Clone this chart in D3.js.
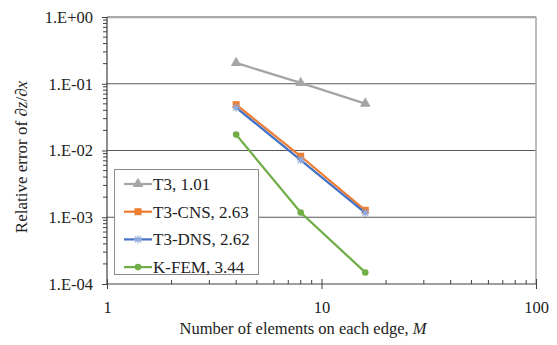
<!DOCTYPE html>
<html>
<head>
<meta charset="utf-8">
<script src="https://cdn.jsdelivr.net/npm/d3@7"></script>
<style>
  body { margin: 0; background: #fff; }
</style>
</head>
<body>
<div id="chart-area"></div>
<script>
// mesh sizes and error values
const elements = [4, 8, 16];
const t3 = [0.205, 0.103, 0.0505];
const t3cns = [0.0486, 0.0082, 0.00127];
const t3dns = [0.0440, 0.0072, 0.00116];
const kfem = [0.0173, 0.00118, 0.000149];

const seriesNames = ["T3, 1.01", "T3-CNS, 2.63", "T3-DNS, 2.62", "K-FEM, 3.44"];
const seriesColors = ["#a5a5a5", "#ed7d31", "#4472c4", "#70ad47"];
const seriesMarkers = ["triangle", "square", "star", "circle"];

const yTicks = [1, 0.1, 0.01, 0.001, 0.0001];
const yTickLabels = ["1.E+00", "1.E-01", "1.E-02", "1.E-03", "1.E-04"];
const xTicks = [1, 10, 100];

const FONT = "Liberation Serif";

const margin = {left: 107, right: 21, top: 17, bottom: 61};
const W = 557, H = 345;
const width = W - margin.left - margin.right,
      height = H - margin.top - margin.bottom;

const svg = d3.select("#chart-area").append("svg")
    .attr("width", W)
    .attr("height", H)
    .attr("font-family", FONT);

const g = svg.append("g")
    .attr("transform", "translate(" + margin.left + "," + margin.top + ")");

// Scales
const x = d3.scaleLog().domain([1, 100]).range([0, width]);
const y = d3.scaleLog().domain([0.0001, 1]).range([height, 0]);

// gridlines
g.selectAll("line.grid").data(yTicks.slice(0, 4))
    .enter().append("line")
    .attr("class", "grid")
    .attr("x1", 0).attr("x2", width)
    .attr("y1", d => y(d)).attr("y2", d => y(d))
    .attr("stroke", "#595959").attr("stroke-width", 1.2);

// plot border (top + right in light gray)
g.append("path")
    .attr("d", "M0,0.5H" + width + "V" + height)
    .attr("fill", "none")
    .attr("stroke", "#a6a6a6").attr("stroke-width", 1.5);

// minor ticks
const yMinor = [];
for (let e = -4; e < 0; e++) for (let k = 2; k < 10; k++) yMinor.push(k * Math.pow(10, e));
const xMinor = [];
for (let e = 0; e < 2; e++) for (let k = 2; k < 10; k++) xMinor.push(k * Math.pow(10, e));

// Y AXIS
g.append("g").selectAll("line").data(yMinor).enter().append("line")
    .attr("x1", -4).attr("x2", 0)
    .attr("y1", d => y(d)).attr("y2", d => y(d))
    .attr("stroke", "#404040");
const yAxisCall = d3.axisLeft(y)
    .tickValues(yTicks)
    .tickSize(5)
    .tickFormat((d, i) => yTickLabels[i]);
const yAxis = g.append("g").attr("class", "y axis").call(yAxisCall)
    .attr("font-family", FONT);
yAxis.select(".domain").attr("stroke", "#404040").attr("stroke-width", 1.2)
    .attr("d", "M0,0V" + height);
yAxis.selectAll(".tick line").attr("stroke", "#404040");
yAxis.selectAll(".tick text")
    .attr("x", -14)
    .attr("font-size", "16.5px")
    .style("font-family", FONT)
    .attr("fill", "#222");

// X AXIS
g.append("g").selectAll("line").data(xMinor).enter().append("line")
    .attr("x1", d => x(d)).attr("x2", d => x(d))
    .attr("y1", height - 4).attr("y2", height)
    .attr("stroke", "#404040");
const xAxisCall = d3.axisBottom(x)
    .tickValues(xTicks)
    .tickSize(5)
    .tickFormat(d3.format("d"));
const xAxis = g.append("g")
    .attr("class", "x axis")
    .attr("transform", "translate(0," + height + ")")
    .call(xAxisCall)
    .attr("font-family", FONT);
xAxis.select(".domain").attr("stroke", "#404040").attr("stroke-width", 1.2)
    .attr("d", "M0,0H" + width);
xAxis.selectAll(".tick line").attr("stroke", "#404040").attr("y1", -5);
xAxis.selectAll(".tick text")
    .attr("y", 17)
    .attr("font-size", "16.5px")
    .style("font-family", FONT)
    .attr("fill", "#222");

// LABELS
g.append("text")
    .attr("x", 196)
    .attr("y", height + 50)
    .attr("font-size", "16.5px")
    .attr("fill", "#222")
    .style("font-family", FONT)
    .attr("text-anchor", "middle")
    .html('Number of elements on each edge, <tspan font-style="italic">M</tspan>');

g.append("text")
    .attr("transform", "rotate(-90)")
    .attr("x", -140)
    .attr("y", -80)
    .attr("font-size", "17px")
    .attr("fill", "#222")
    .style("font-family", FONT)
    .attr("text-anchor", "middle")
    .html('Relative error of \u2202<tspan font-style="italic">z</tspan>/\u2202<tspan font-style="italic">x</tspan>');

// markers
function drawMarker(sel, type, color) {
    if (type === "triangle") {
        sel.append("path").attr("d", d3.symbol(d3.symbolTriangle, 50)())
            .attr("fill", color);
    } else if (type === "square") {
        sel.append("rect").attr("x", -3.5).attr("y", -3.5)
            .attr("width", 7).attr("height", 7).attr("fill", color);
    } else if (type === "star") {
        sel.append("path")
            .attr("d", "M-4,0H4M0,-4V4M-3,-3L3,3M-3,3L3,-3")
            .attr("stroke", "#8fa9dc").attr("stroke-width", 1.2);
    } else {
        sel.append("circle").attr("r", 3.3).attr("fill", color);
    }
}

const allSeries = [t3, t3cns, t3dns, kfem];
const line = d3.line().x(d => x(d[0])).y(d => y(d[1]));

allSeries.forEach(function(vals, i) {
    const pts = elements.map((m, j) => [m, vals[j]]);
    g.append("path")
        .datum(pts)
        .attr("d", line)
        .attr("fill", "none")
        .attr("stroke", seriesColors[i])
        .attr("stroke-width", 2.25);
    pts.forEach(function(p) {
        const mk = g.append("g")
            .attr("transform", "translate(" + x(p[0]) + "," + y(p[1]) + ")");
        drawMarker(mk, seriesMarkers[i], seriesColors[i]);
    });
});

// LEGEND
const legend = svg.append("g").attr("transform", "translate(114,169)");
legend.append("rect")
    .attr("x", 0.5).attr("y", 0.5)
    .attr("width", 144).attr("height", 105)
    .attr("fill", "#fff")
    .attr("stroke", "#8c8c8c").attr("stroke-width", 1);

seriesNames.forEach(function(name, i) {
    const row = legend.append("g")
        .attr("transform", "translate(0," + (15 + i * 27.7) + ")");
    row.append("line")
        .attr("x1", 10).attr("x2", 38)
        .attr("stroke", seriesColors[i]).attr("stroke-width", 2.25);
    const mk = row.append("g").attr("transform", "translate(24,0)");
    drawMarker(mk, seriesMarkers[i], seriesColors[i]);
    row.append("text")
        .attr("x", 39)
        .attr("y", 6)
        .attr("font-size", "17px")
        .attr("fill", "#222")
        .style("font-family", FONT)
        .text(name);
});
</script>
</body>
</html>
